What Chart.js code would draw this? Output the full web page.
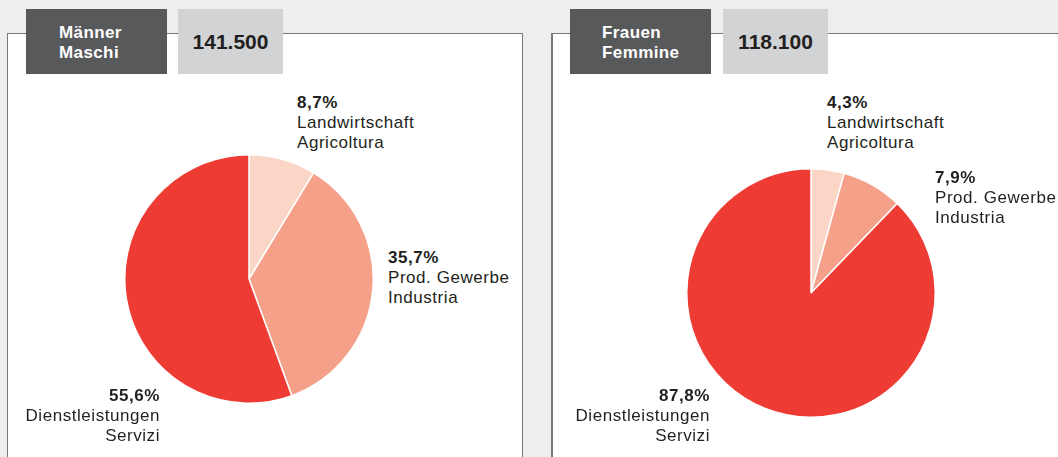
<!DOCTYPE html>
<html>
<head>
<meta charset="utf-8">
<script src="https://cdn.jsdelivr.net/npm/chart.js@4/dist/chart.umd.min.js"></script>
<style>
  html, body { margin: 0; padding: 0; }
  body {
    width: 1058px; height: 457px; overflow: hidden; position: relative;
    background: #eeeeee; font-family: "Liberation Sans", Arial, sans-serif; color: #231f20;
  }
  .panel { position: absolute; top: 33px; height: 500px; background: #fff; border: 1px solid #777; box-sizing: border-box; }
  .box { position: absolute; top: 9px; height: 65px; box-sizing: border-box; }
  .dark { background: #58595b; color: #fff; font-weight: bold; font-size: 17px; line-height: 20px; letter-spacing: 0.4px; padding-top: 14px; }
  .light { background: #d1d3d4; font-weight: bold; font-size: 21px; display: flex; align-items: center; justify-content: center; }
  canvas { position: absolute; }
  .lbl { position: absolute; font-size: 17px; line-height: 20px; letter-spacing: 0.55px; white-space: nowrap; }
  .lbl b { display: block; }
  .lbl span { display: block; }
</style>
</head>
<body>
<div class="panel" style="left:7px; width:516px;"></div>
<div class="panel" style="left:551px; width:560px; border-left-width:2px;"></div>

<div class="box dark" id="hdrM" style="left:26px; width:141px; padding-left:33px;"></div>
<div class="box light" id="totM" style="left:178px; width:105px;"></div>
<div class="box dark" id="hdrF" style="left:570px; width:141px; padding-left:32px;"></div>
<div class="box light" id="totF" style="left:723px; width:105px;"></div>

<canvas id="pieM" width="250" height="250" style="left:124px; top:154px;"></canvas>
<canvas id="pieF" width="250" height="250" style="left:686px; top:168px;"></canvas>

<script>
const categoriesDe = ['Landwirtschaft', 'Prod. Gewerbe', 'Dienstleistungen'];
const categoriesIt = ['Agricoltura', 'Industria', 'Servizi'];
const menShares = [8.7, 35.7, 55.6];
const womenShares = [4.3, 7.9, 87.8];
const groupDe = ['Männer', 'Frauen'];
const groupIt = ['Maschi', 'Femmine'];
const totals = ['141.500', '118.100'];
const sliceColors = ['#fbd5c6', '#f5a088', '#ee3b33'];

// label anchors per slice: [x, y, align]
const labelPosM = [[297, 93, 'left'], [388, 248, 'left'], [160, 386, 'right']];
const labelPosF = [[827, 93, 'left'], [935, 168, 'left'], [710, 386, 'right']];

function fmt(v) { return v.toFixed(1).replace('.', ',') + '%'; }

function headers(i, hdrId, totId) {
  document.getElementById(hdrId).innerHTML = groupDe[i] + '<br>' + groupIt[i];
  document.getElementById(totId).textContent = totals[i];
}
headers(0, 'hdrM', 'totM');
headers(1, 'hdrF', 'totF');

function labels(values, pos) {
  values.forEach((v, i) => {
    const d = document.createElement('div');
    d.className = 'lbl';
    const [x, y, align] = pos[i];
    d.style.top = y + 'px';
    d.style.textAlign = align;
    if (align === 'left') d.style.left = x + 'px';
    else d.style.right = (1058 - x) + 'px';
    d.innerHTML = `<b>${fmt(v)}</b><span>${categoriesDe[i]}</span><span>${categoriesIt[i]}</span>`;
    document.body.appendChild(d);
  });
}
labels(menShares, labelPosM);
labels(womenShares, labelPosF);

function drawPie(id, values) {
  new Chart(document.getElementById(id), {
    type: 'pie',
    data: {
      labels: categoriesDe,
      datasets: [{
        data: values,
        backgroundColor: sliceColors,
        borderColor: '#ffffff',
        borderWidth: 1.5
      }]
    },
    options: {
      responsive: false,
      animation: false,
      layout: { padding: 0 },
      plugins: { legend: { display: false }, tooltip: { enabled: false } }
    }
  });
}
drawPie('pieM', menShares);
drawPie('pieF', womenShares);
</script>
</body>
</html>
